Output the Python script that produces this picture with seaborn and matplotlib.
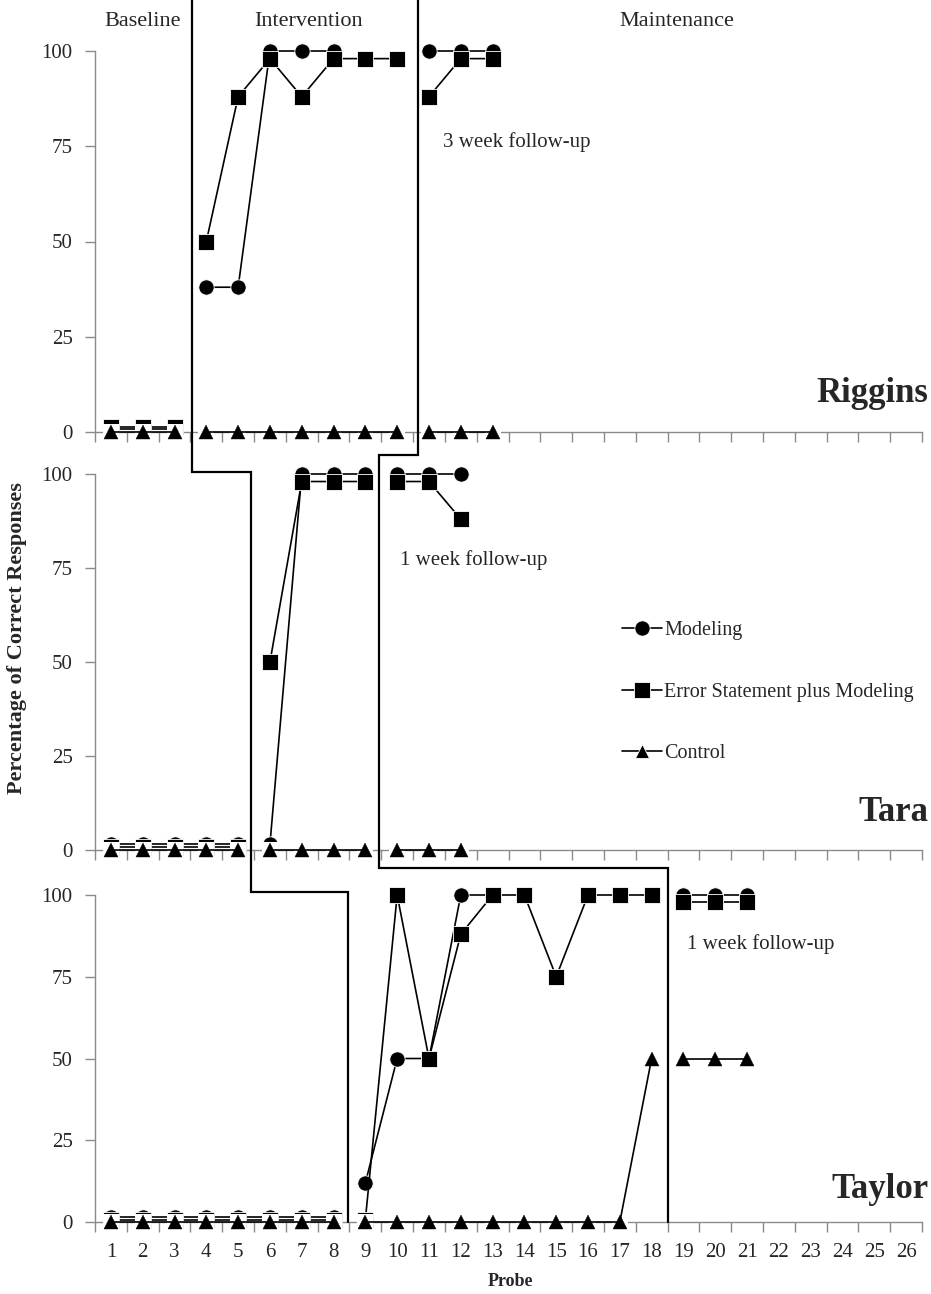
import numpy as np
import pandas as pd
import matplotlib
matplotlib.use("Agg")
import matplotlib.pyplot as plt
import seaborn as sns
from matplotlib.lines import Line2D
from matplotlib.path import Path
from matplotlib.transforms import blended_transform_factory

nan = np.nan

# ---- data -------------------------------------------------------------
SERIES = ["Modeling", "Error Statement plus Modeling", "Control"]
PHASE_LABELS = ["Baseline", "Intervention", "Maintenance"]
PROBE_TICKS = list(range(1, 27))
Y_TICKS = [0, 25, 50, 75, 100]

RIGGINS_PROBE = list(range(1, 14))
RIGGINS_PHASE = [0] * 3 + [1] * 7 + [2] * 3
RIGGINS_MODELING = [0.7, 0.7, 0.7, 38, 38, 100, 100, 100, nan, nan, 100, 100, 100]
RIGGINS_ERROR = [1.2, 1.2, 1.2, 50, 88, 98, 88, 98, 98, 98, 88, 98, 98]
RIGGINS_CONTROL = [0] * 13

TARA_PROBE = list(range(1, 13))
TARA_PHASE = [0] * 5 + [1] * 4 + [2] * 3
TARA_MODELING = [1.5, 1.5, 1.5, 1.5, 1.5, 1.5, 100, 100, 100, 100, 100, 100]
TARA_ERROR = [0.7, 0.7, 0.7, 0.7, 0.7, 50, 98, 98, 98, 98, 98, 88]
TARA_CONTROL = [0] * 12

TAYLOR_PROBE = list(range(1, 22))
TAYLOR_PHASE = [0] * 8 + [1] * 10 + [2] * 3
TAYLOR_MODELING = [1.4] * 8 + [12, 50, 50, 100, 100, nan, nan, nan, nan, nan] + [100, 100, 100]
TAYLOR_ERROR = [0.7] * 8 + [0.7, 100, 50, 88, 100, 100, 75, 100, 100, 100] + [98, 98, 98]
TAYLOR_CONTROL = [0] * 17 + [50] + [50, 50, 50]

PARTICIPANTS = [
    ("Riggins", RIGGINS_PROBE, RIGGINS_PHASE, RIGGINS_MODELING, RIGGINS_ERROR, RIGGINS_CONTROL),
    ("Tara", TARA_PROBE, TARA_PHASE, TARA_MODELING, TARA_ERROR, TARA_CONTROL),
    ("Taylor", TAYLOR_PROBE, TAYLOR_PHASE, TAYLOR_MODELING, TAYLOR_ERROR, TAYLOR_CONTROL),
]


def series_frame(probe, phase, vals):
    df = pd.DataFrame({"probe": probe, "phase": phase, "value": vals})
    return df.dropna()


# ---- style ------------------------------------------------------------
sns.set_style("ticks")
plt.rcParams["font.family"] = ["Liberation Serif", "DejaVu Serif"]

W, H = 931, 1294
fig = plt.figure(figsize=(W / 100, H / 100), dpi=100)

# panel boxes in pixels: (top, bottom)
LEFT, RIGHT = 95, 922
BOXES = [(51, 432), (474, 850), (895, 1222)]

MARKERS = {"Modeling": "o", "Error Statement plus Modeling": "s", "Control": "^"}
MSIZE = {"Modeling": 11, "Error Statement plus Modeling": 11, "Control": 10}
LW = 1.2
AXIS_GRAY = "#8a8a8a"
LINE_KW = dict(color="black", linewidth=LW, clip_on=False, zorder=3,
               markeredgecolor="white", markeredgewidth=0.6)

# white backing tile behind each triangle marker, so overlapping markers
# only peek out above the triangle's apex
_tile_verts = [(0, -10), (-8, -8.5), (8, -8.5), (8, 8.2), (-8, 8.2), (-8, -8.5)]
_tile_codes = [Path.MOVETO, Path.MOVETO, Path.LINETO, Path.LINETO, Path.LINETO,
               Path.CLOSEPOLY]
TILE = Path(_tile_verts, _tile_codes)

axes = []
for (name, probe, phase, mod, err, ctl), (top, bot) in zip(PARTICIPANTS, BOXES):
    ax = fig.add_axes([LEFT / W, 1 - bot / H, (RIGHT - LEFT) / W, (bot - top) / H])
    for s, vals in zip(SERIES[:2], (mod, err)):
        sns.lineplot(data=series_frame(probe, phase, vals), x="probe", y="value",
                     units="phase", estimator=None, marker=MARKERS[s],
                     markersize=MSIZE[s], legend=False, ax=ax, **LINE_KW)
    ctl_df = series_frame(probe, phase, ctl)
    sns.lineplot(data=ctl_df, x="probe", y="value", units="phase", estimator=None,
                 marker=TILE, markersize=14.4, linewidth=0, legend=False, ax=ax,
                 color="white", clip_on=False, zorder=3,
                 markerfacecolor="white", markeredgecolor="white", markeredgewidth=0)
    sns.lineplot(data=ctl_df, x="probe", y="value", units="phase", estimator=None,
                 marker="^", markersize=MSIZE["Control"], linewidth=LW, legend=False,
                 ax=ax, color="black", clip_on=False, zorder=3,
                 markeredgecolor="black", markeredgewidth=0.3)
    ax.set_xlim(0.5, 26.5)
    ax.set_ylim(0, 100)
    ax.set_xticks(PROBE_TICKS)
    ax.set_xticks(np.arange(0.5, 27, 1), minor=True)
    ax.set_yticks(Y_TICKS)
    ax.tick_params(axis="x", which="major", length=0, pad=15, labelsize=15)
    ax.tick_params(axis="x", which="minor", length=7, width=1, color=AXIS_GRAY,
                   direction="out")
    ax.tick_params(axis="y", length=7, width=1, color=AXIS_GRAY, pad=9, labelsize=15)
    for side in ("top", "right"):
        ax.spines[side].set_visible(False)
    for side in ("left", "bottom"):
        ax.spines[side].set_color(AXIS_GRAY)
        ax.spines[side].set_linewidth(1)
    ax.set_xlabel("")
    ax.set_ylabel("")
    ax.text(1.008, 0.1, name, transform=ax.transAxes, ha="right", va="center",
            fontsize=25, fontweight="bold")
    axes.append(ax)

ax_r, ax_tara, ax_tay = axes
ax_r.tick_params(axis="x", labelbottom=False)
ax_tara.tick_params(axis="x", labelbottom=False)

# follow-up notes
ax_r.text(11.45, 76, "3 week follow-up", fontsize=15, va="center", ha="left")
ax_tara.text(10.1, 77, "1 week follow-up", fontsize=15, va="center", ha="left")
ax_tay.text(19.1, 85, "1 week follow-up", fontsize=15, va="center", ha="left")

# phase-change lines running through all three panels
trans = blended_transform_factory(ax_r.transData, fig.transFigure)
def fy(px):
    return 1 - px / H

line1_x = [3.55, 3.55, 5.4, 5.4, 8.46, 8.46]
line1_y = [fy(0), fy(472), fy(472), fy(892), fy(892), fy(1222)]
line2_x = [10.65, 10.65, 9.43, 9.43, 18.5, 18.5]
line2_y = [fy(0), fy(455), fy(455), fy(868), fy(868), fy(1222)]
for xs, ys in ((line1_x, line1_y), (line2_x, line2_y)):
    fig.add_artist(Line2D(xs, ys, transform=trans, color="black", lw=1.6,
                          solid_joinstyle="miter"))

# phase headings
for label, xc in zip(PHASE_LABELS, (2.0, 7.2, 18.8)):
    fig.text(xc, fy(21), label, transform=trans, ha="center", va="center", fontsize=16)

# legend
handles = [Line2D([], [], color="black", lw=LW, marker=MARKERS[s], markersize=MSIZE[s],
                  markeredgecolor="white", markeredgewidth=0.6) for s in SERIES]
ax_tara.legend(handles, SERIES, loc="center left", bbox_to_anchor=(0.637, 0.42),
               frameon=False, fontsize=14.5, handlelength=2.0, handletextpad=0.1,
               labelspacing=2.1, borderpad=0, borderaxespad=0)

fig.text(17 / W, fy(638), "Percentage of Correct Responses", rotation=90,
         ha="center", va="center", fontsize=16, fontweight="bold")
fig.text(510 / W, fy(1281), "Probe", ha="center", va="center", fontsize=13,
         fontweight="bold")

fig.savefig("out.png", dpi=100)
